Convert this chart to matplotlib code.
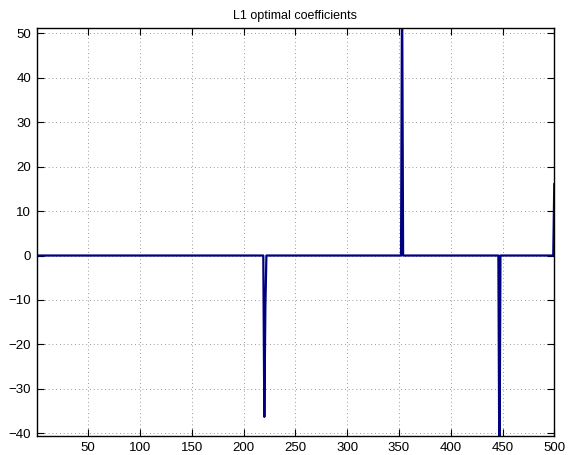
import numpy as np
import matplotlib
matplotlib.use("Agg")
import matplotlib.pyplot as plt

title = "L1 optimal coefficients"
n_coeffs = 500
spike_idx = [220, 221, 353, 447, 500]
spike_val = [-36.3, -11.5, 62.0, -52.0, 16.3]
x_ticks = [50, 100, 150, 200, 250, 300, 350, 400, 450, 500]
y_ticks = [-40, -30, -20, -10, 0, 10, 20, 30, 40, 50]

x = np.arange(1, n_coeffs + 1)
coeffs = np.zeros(n_coeffs)
for i, v in zip(spike_idx, spike_val):
    coeffs[i - 1] = v

plt.rcParams['font.family'] = ['Liberation Sans', 'DejaVu Sans']
fig = plt.figure(figsize=(5.69, 4.55), dpi=100)
W, H = 569, 455
ax = fig.add_axes([36.5 / W, 1 - 436 / H, (554.3 - 36.5) / W, (436 - 27.5) / H])
ax.plot(x, coeffs, color='#000080', linewidth=1.6, solid_joinstyle='round',
        solid_capstyle='butt')
ax.set_xlim(0, 500)
ax.set_ylim(-40.6, 51.3)
ax.set_xticks(x_ticks)
ax.set_yticks(y_ticks)
ax.set_yticklabels([f"\u2212{abs(t)}" if t < 0 else str(t) for t in y_ticks])
ax.tick_params(direction='in', top=True, right=True, length=5, width=0.8,
               labelsize=9.5, colors='black', pad=4)
ax.grid(True, color='#777777', linestyle=(0, (1, 3.5)), linewidth=0.6)
for s in ax.spines.values():
    s.set_linewidth(1.0)
    s.set_color('black')
ax.set_title(title, fontsize=9, pad=6)
fig.savefig("out.png", dpi=100)
